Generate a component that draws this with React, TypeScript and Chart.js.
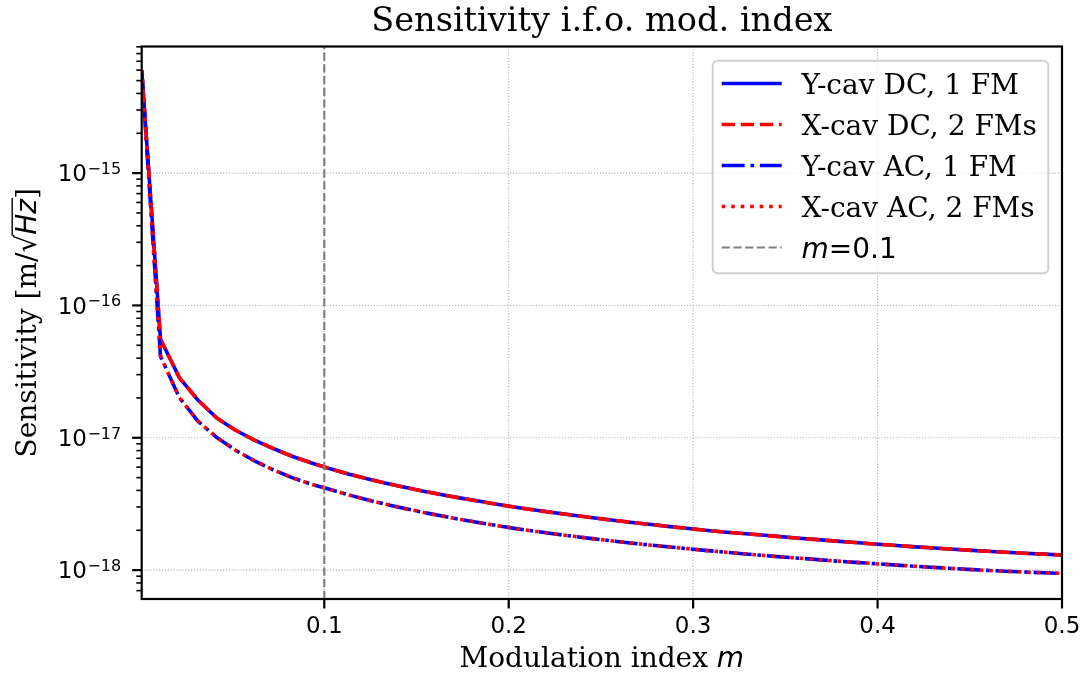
import React, { useEffect, useRef } from 'react';
import { Chart, registerables } from 'chart.js';

Chart.register(...registerables);

// ---------------- data ----------------
const M_VALUES = [
  0.001, 0.0112, 0.0214, 0.0316, 0.0417, 0.0519, 0.0621, 0.0723, 0.0825, 0.0927,
  0.1028, 0.113, 0.1232, 0.1334, 0.1436, 0.1538, 0.1639, 0.1741, 0.1843, 0.1945,
  0.2047, 0.2149, 0.225, 0.2352, 0.2454, 0.2556, 0.2658, 0.276, 0.2862, 0.2963,
  0.3065, 0.3167, 0.3269, 0.3371, 0.3473, 0.3574, 0.3676, 0.3778, 0.388, 0.3982,
  0.4084, 0.4185, 0.4287, 0.4389, 0.4491, 0.4593, 0.4695, 0.4796, 0.4898, 0.5,
];

const DC_SENSITIVITY = [
  6.0e-15, 5.55e-17, 2.85e-17, 1.92e-17, 1.41e-17, 1.14e-17, 9.6e-18, 8.3e-18, 7.25e-18, 6.48e-18,
  5.85e-18, 5.33e-18, 4.9e-18, 4.53e-18, 4.22e-18, 3.95e-18, 3.71e-18, 3.5e-18, 3.31e-18, 3.13e-18,
  2.97e-18, 2.83e-18, 2.71e-18, 2.6e-18, 2.49e-18, 2.39e-18, 2.3e-18, 2.22e-18, 2.14e-18, 2.07e-18,
  2.0e-18, 1.94e-18, 1.89e-18, 1.84e-18, 1.79e-18, 1.74e-18, 1.7e-18, 1.655e-18, 1.615e-18, 1.575e-18,
  1.54e-18, 1.505e-18, 1.475e-18, 1.445e-18, 1.415e-18, 1.39e-18, 1.365e-18, 1.34e-18, 1.32e-18, 1.3e-18,
];

const AC_SENSITIVITY = [
  6.0e-15, 4.13e-17, 2.01e-17, 1.33e-17, 1.005e-17, 8.05e-18, 6.7e-18, 5.72e-18, 5.0e-18, 4.47e-18,
  4.08e-18, 3.71e-18, 3.4e-18, 3.14e-18, 2.92e-18, 2.73e-18, 2.56e-18, 2.41e-18, 2.28e-18, 2.16e-18,
  2.05e-18, 1.96e-18, 1.875e-18, 1.8e-18, 1.73e-18, 1.665e-18, 1.605e-18, 1.55e-18, 1.5e-18, 1.455e-18,
  1.41e-18, 1.37e-18, 1.33e-18, 1.295e-18, 1.26e-18, 1.23e-18, 1.2e-18, 1.17e-18, 1.145e-18, 1.12e-18,
  1.095e-18, 1.073e-18, 1.052e-18, 1.032e-18, 1.013e-18, 9.95e-19, 9.8e-19, 9.68e-19, 9.55e-19, 9.45e-19,
];

const SERIES_LABELS = ['Y-cav DC, 1 FM', 'X-cav DC, 2 FMs', 'Y-cav AC, 1 FM', 'X-cav AC, 2 FMs'];
const MARKER_M = 0.1;
const X_TICKS = [0.1, 0.2, 0.3, 0.4, 0.5];
const X_TICK_LABELS = ['0.1', '0.2', '0.3', '0.4', '0.5'];
const Y_TICKS = [1e-18, 1e-17, 1e-16, 1e-15];
const Y_TICK_EXPONENTS = ['\u221218', '\u221217', '\u221216', '\u221215'];
const X_MIN = 0.001;
const X_MAX = 0.5;
const Y_MIN = 6.05e-19;
const Y_MAX = 9.05e-15;
const TITLE = 'Sensitivity i.f.o. mod. index';
const X_LABEL = 'Modulation index ';
const X_LABEL_MATH = 'm';

// ---------------- styles ----------------
const W = 1083;
const H = 675;
const LW = 3.6;
const BLUE = '#0000ff';
const RED = '#ff0000';
const SERIF = '"DejaVu Serif", serif';
const SANS = '"DejaVu Sans", sans-serif';
const FS = 28;

const decorPlugin = {
  id: 'mplDecor',
  beforeDatasetsDraw(chart: any) {
    const { ctx, chartArea: a, scales } = chart;
    const x = scales.x;
    const y = scales.y;
    ctx.save();
    ctx.strokeStyle = '#b0b0b0';
    ctx.lineWidth = 1.1;
    ctx.setLineDash([1.1, 1.8]);
    X_TICKS.forEach((v) => {
      const px = x.getPixelForValue(v);
      if (px > a.left + 1 && px < a.right - 1) {
        ctx.beginPath();
        ctx.moveTo(px, a.top);
        ctx.lineTo(px, a.bottom);
        ctx.stroke();
      }
    });
    Y_TICKS.forEach((v) => {
      const py = y.getPixelForValue(v);
      if (py > a.top + 1 && py < a.bottom - 1) {
        ctx.beginPath();
        ctx.moveTo(a.left, py);
        ctx.lineTo(a.right, py);
        ctx.stroke();
      }
    });
    ctx.restore();
  },
  afterDatasetsDraw(chart: any) {
    const { ctx, chartArea: a, scales } = chart;
    const x = scales.x;
    const y = scales.y;
    ctx.save();
    ctx.setLineDash([]);
    ctx.strokeStyle = '#000';
    ctx.fillStyle = '#000';

    // spines
    ctx.lineWidth = 2.2;
    ctx.strokeRect(a.left, a.top, a.right - a.left, a.bottom - a.top);

    // x ticks
    ctx.lineWidth = 2.2;
    ctx.font = `23px ${SANS}`;
    ctx.textAlign = 'center';
    ctx.textBaseline = 'alphabetic';
    X_TICKS.forEach((v, i) => {
      const px = x.getPixelForValue(v);
      ctx.beginPath();
      ctx.moveTo(px, a.bottom);
      ctx.lineTo(px, a.bottom + 9.5);
      ctx.stroke();
      ctx.fillText(X_TICK_LABELS[i], px, a.bottom + 34);
    });

    // y minor ticks
    ctx.lineWidth = 1.6;
    for (let e = -20; e <= -13; e++) {
      for (let k = 2; k <= 9; k++) {
        const v = k * Math.pow(10, e);
        if (v < Y_MIN || v > Y_MAX) continue;
        const py = y.getPixelForValue(v);
        ctx.beginPath();
        ctx.moveTo(a.left, py);
        ctx.lineTo(a.left - 5.4, py);
        ctx.stroke();
      }
    }
    // y major ticks + labels
    ctx.lineWidth = 2.2;
    Y_TICKS.forEach((v, i) => {
      const py = y.getPixelForValue(v);
      ctx.beginPath();
      ctx.moveTo(a.left, py);
      ctx.lineTo(a.left - 9.5, py);
      ctx.stroke();
      ctx.textAlign = 'left';
      ctx.font = `16px ${SANS}`;
      const wExp = ctx.measureText(Y_TICK_EXPONENTS[i]).width;
      ctx.font = `23px ${SANS}`;
      const wBase = ctx.measureText('10').width;
      const right = a.left - 21;
      const x0 = right - wExp - wBase;
      ctx.fillText('10', x0, py + 8.3);
      ctx.font = `16px ${SANS}`;
      ctx.fillText(Y_TICK_EXPONENTS[i], x0 + wBase + 0.5, py + 1);
    });

    // title
    const cx = (a.left + a.right) / 2;
    ctx.textAlign = 'center';
    ctx.font = `33.6px ${SERIF}`;
    ctx.fillText(TITLE, cx, 31);

    // x label
    ctx.textAlign = 'left';
    ctx.font = `${FS}px ${SERIF}`;
    const w1 = ctx.measureText(X_LABEL).width;
    ctx.font = `italic ${FS}px ${SANS}`;
    const w2 = ctx.measureText(X_LABEL_MATH).width;
    const xs = cx - (w1 + w2) / 2;
    ctx.font = `${FS}px ${SERIF}`;
    ctx.fillText(X_LABEL, xs, 667);
    ctx.font = `italic ${FS}px ${SANS}`;
    ctx.fillText(X_LABEL_MATH, xs + w1, 667);

    // y label (rotated)
    ctx.save();
    ctx.translate(35.5, (a.top + a.bottom) / 2);
    ctx.rotate(-Math.PI / 2);
    const parts = [
      { t: 'Sensitivity [m/', f: `${FS}px ${SERIF}` },
      { t: '\u221A', f: `${FS}px ${SANS}` },
      { t: 'Hz', f: `italic ${FS}px ${SANS}` },
      { t: ']', f: `${FS}px ${SERIF}` },
    ];
    let total = 0;
    const widths = parts.map((p) => {
      ctx.font = p.f;
      const w = ctx.measureText(p.t).width;
      total += w;
      return w;
    });
    let px0 = -total / 2;
    parts.forEach((p, i) => {
      ctx.font = p.f;
      ctx.fillText(p.t, px0, 0);
      if (p.t === 'Hz') {
        ctx.lineWidth = 1.4;
        ctx.beginPath();
        ctx.moveTo(px0 - 1, -23.3);
        ctx.lineTo(px0 + widths[i] + 1, -23.3);
        ctx.stroke();
      }
      px0 += widths[i];
    });
    ctx.restore();

    // legend
    const bx = 712.7;
    const by = 60.7;
    const bw = 335.6;
    const bh = 212.6;
    ctx.beginPath();
    ctx.roundRect(bx, by, bw, bh, 5);
    ctx.fillStyle = 'rgba(255,255,255,0.8)';
    ctx.fill();
    ctx.strokeStyle = 'rgba(204,204,204,0.9)';
    ctx.lineWidth = 2;
    ctx.stroke();

    const ds = chart.data.datasets;
    const legendOrder = [0, 1, 2, 3, 4];
    legendOrder.forEach((di, row) => {
      const d = ds[di];
      const cy = 83.5 + row * 41;
      ctx.save();
      ctx.strokeStyle = d.borderColor;
      ctx.lineWidth = d.borderWidth;
      ctx.setLineDash(d.borderDash || []);
      ctx.lineCap = 'butt';
      ctx.beginPath();
      ctx.moveTo(721.7, cy);
      ctx.lineTo(781.7, cy);
      ctx.stroke();
      ctx.restore();
      ctx.fillStyle = '#000';
      ctx.textAlign = 'left';
      const tx = 801.5;
      const ty = cy + 10;
      if (di < 4) {
        ctx.font = `${FS}px ${SERIF}`;
        ctx.fillText(d.label, tx, ty);
      } else {
        ctx.font = `italic ${FS}px ${SANS}`;
        ctx.fillText('m', tx, ty);
        const wm = ctx.measureText('m').width;
        ctx.font = `${FS}px ${SANS}`;
        ctx.fillText('=' + String(MARKER_M), tx + wm, ty);
      }
    });

    ctx.restore();
  },
};

export default function App() {
  const ref = useRef<HTMLCanvasElement | null>(null);

  useEffect(() => {
    if (!ref.current) return;
    const pts = (ys: number[]) => M_VALUES.map((m, i) => ({ x: m, y: ys[i] }));
    const chart = new Chart(ref.current, {
      type: 'line',
      data: {
        datasets: [
          {
            label: SERIES_LABELS[0],
            data: pts(DC_SENSITIVITY),
            borderColor: BLUE,
            borderWidth: LW,
            borderDash: [],
            order: 4,
          },
          {
            label: SERIES_LABELS[1],
            data: pts(DC_SENSITIVITY),
            borderColor: RED,
            borderWidth: LW,
            borderDash: [13.3, 5.8],
            order: 3,
          },
          {
            label: SERIES_LABELS[2],
            data: pts(AC_SENSITIVITY),
            borderColor: BLUE,
            borderWidth: LW,
            borderDash: [23, 5.8, 3.6, 5.8],
            order: 2,
          },
          {
            label: SERIES_LABELS[3],
            data: pts(AC_SENSITIVITY),
            borderColor: RED,
            borderWidth: LW,
            borderDash: [3.6, 5.9],
            order: 1,
          },
          {
            label: 'm=' + String(MARKER_M),
            data: [
              { x: MARKER_M, y: Y_MIN },
              { x: MARKER_M, y: Y_MAX },
            ],
            borderColor: '#808080',
            borderWidth: 2.2,
            borderDash: [8.2, 3.5],
            order: 0,
          },
        ] as any,
      },
      options: {
        animation: false,
        responsive: false,
        devicePixelRatio: 1,
        events: [],
        layout: { padding: { top: 46.5, right: 21, left: 0, bottom: 0 } },
        elements: {
          point: { radius: 0, hoverRadius: 0 },
          line: { tension: 0, borderCapStyle: 'butt', borderJoinStyle: 'round', fill: false },
        },
        plugins: {
          legend: { display: false },
          title: { display: false },
          tooltip: { enabled: false },
        },
        scales: {
          x: {
            type: 'linear',
            min: X_MIN,
            max: X_MAX,
            grid: { display: false, drawTicks: false },
            border: { display: false },
            ticks: { display: false },
            afterFit: (s: any) => {
              s.height = 76;
            },
          },
          y: {
            type: 'logarithmic',
            min: Y_MIN,
            max: Y_MAX,
            grid: { display: false, drawTicks: false },
            border: { display: false },
            ticks: { display: false },
            afterFit: (s: any) => {
              s.width = 141.7;
            },
          },
        },
      } as any,
      plugins: [decorPlugin],
    });
    return () => chart.destroy();
  }, []);

  return (
    <div style={{ position: 'fixed', left: 0, top: 0, width: W, height: H, background: '#fff' }}>
      <canvas ref={ref} width={W} height={H} style={{ width: W, height: H, display: 'block' }} />
    </div>
  );
}
